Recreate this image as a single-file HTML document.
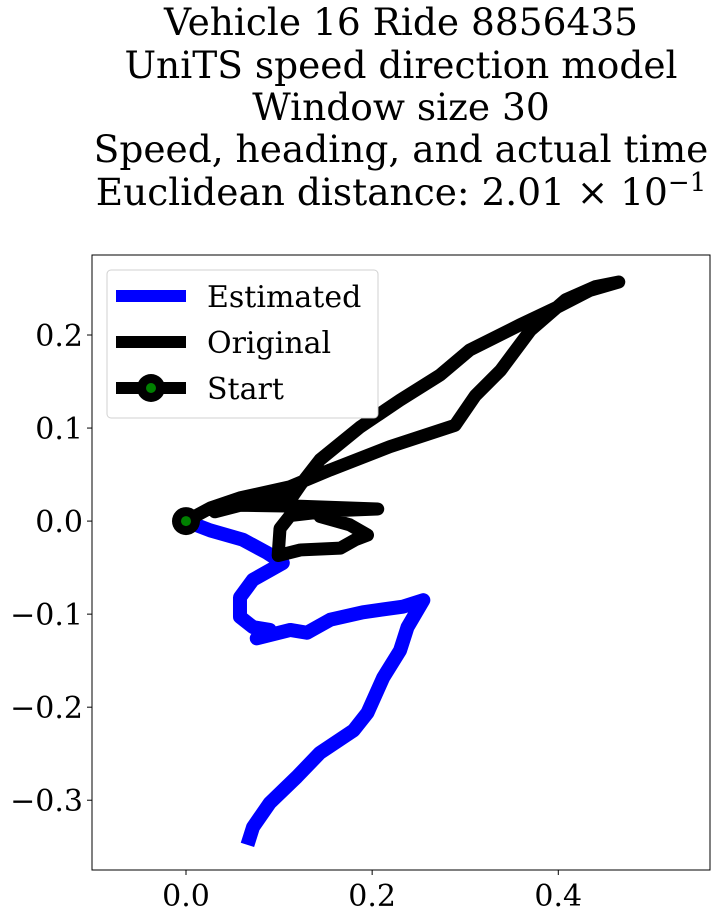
<!DOCTYPE html>
<html><head><meta charset="utf-8"><style>
body{margin:0;background:#fff;width:719px;height:917px;overflow:hidden}
svg text{font-family:"DejaVu Serif","Liberation Serif",serif;fill:#000}
</style></head><body>
<svg width="719" height="917" id="c">
<g font-size="37.5" text-anchor="middle">
<text x="401" y="35">Vehicle 16 Ride 8856435</text>
<text x="401" y="78">UniTS speed direction model</text>
<text x="401" y="120">Window size 30</text>
<text x="401" y="162">Speed, heading, and actual time</text>
<text x="401" y="205">Euclidean distance: 2.01 × 10<tspan dy="-14" font-size="26">−1</tspan></text>
</g>
<g id="plot"></g>
</svg>
<script>
const estX=[0,.026,.061,.087,.104,.072,.058,.058,.072,.090,.076,.112,.130,.155,.190,.233,.255,.238,.230,.212,.195,.180,.144,.119,.090,.072,.066];
const estY=[0,-.010,-.020,-.034,-.045,-.063,-.082,-.103,-.114,-.117,-.126,-.117,-.120,-.106,-.098,-.092,-.085,-.114,-.139,-.168,-.206,-.225,-.249,-.275,-.303,-.329,-.348];
const orgX=[0,.026,.058,.112,.155,.219,.289,.311,.338,.370,.408,.440,.465,.434,.397,.359,.305,.273,.230,.187,.144,.123,.112,.058,.031,.058,.123,.206,.155,.112,.101,.099,.123,.166,.182,.195,.176,.144];
const orgY=[0,.014,.025,.037,.055,.080,.103,.135,.162,.205,.238,.252,.257,.248,.229,.211,.184,.157,.130,.101,.066,.039,.023,.018,.010,.017,.016,.013,.011,.006,-.008,-.037,-.031,-.029,-.020,-.015,-.004,.005];
const xTicks=[0,0.2,0.4], xTickLabels=["0.0","0.2","0.4"];
const yTicks=[0.2,0.1,0,-0.1,-0.2,-0.3], yTickLabels=["0.2","0.1","0.0","−0.1","−0.2","−0.3"];
const L=92,R=710,T=255,B=870,x0=-0.101,x1=0.563,y0=-0.375,y1=0.286;
const sx=v=>L+(v-x0)/(x1-x0)*(R-L), sy=v=>B-(v-y0)/(y1-y0)*(B-T);
const NS="http://www.w3.org/2000/svg", g=document.getElementById('plot');
function mk(t,a){const e=document.createElementNS(NS,t);for(const k in a)e.setAttribute(k,a[k]);g.appendChild(e);return e;}
const frame=mk('rect',{x:L,y:T,width:R-L,height:B-T,fill:'none',stroke:'#000','stroke-width':1});


xTicks.forEach((v,i)=>{const t=mk('line',{x1:sx(v),x2:sx(v),y1:B,y2:B+5,stroke:'#000'});


const l=mk('text',{x:sx(v),y:B+36,'font-size':30,'text-anchor':'middle'});l.textContent=xTickLabels[i];

});
yTicks.forEach((v,i)=>{const t=mk('line',{x1:L-5,x2:L,y1:sy(v),y2:sy(v),stroke:'#000'});


const l=mk('text',{x:L-9,y:sy(v)+11,'font-size':30,'text-anchor':'end'});l.textContent=yTickLabels[i];

});
const pts=(X,Y)=>X.map((v,i)=>sx(v)+','+sy(Y[i])).join(' ');
const est=mk('polyline',{points:pts(estX,estY),fill:'none',stroke:'#0000ff','stroke-width':14,'stroke-linejoin':'round'});


const org=mk('polyline',{points:pts(orgX,orgY),fill:'none',stroke:'#000','stroke-width':13,'stroke-linejoin':'round','stroke-linecap':'round'});


const s1=mk('circle',{cx:sx(orgX[0]),cy:sy(orgY[0]),r:14,fill:'#000'});


const s2=mk('circle',{cx:sx(orgX[0]),cy:sy(orgY[0]),r:5,fill:'#008000'});


const lg=mk('rect',{x:107,y:270,width:271,height:148,rx:4,fill:'#fff',stroke:'#ccc','stroke-opacity':0.9});


const items=[['Estimated','#0000ff',296],['Original','#000',342],['Start','#000',388]];
items.forEach((it,i)=>{const ln=mk('line',{x1:116,x2:186,y1:it[2],y2:it[2],stroke:it[1],'stroke-width':12});


if(i==2){const c=mk('circle',{cx:151,cy:it[2],r:14,fill:'#000'});


const c2=mk('circle',{cx:151,cy:it[2],r:5,fill:'#008000'});

}
const t=mk('text',{x:207,y:it[2]+11,'font-size':30});t.textContent=it[0];

});
</script>
</body></html>
